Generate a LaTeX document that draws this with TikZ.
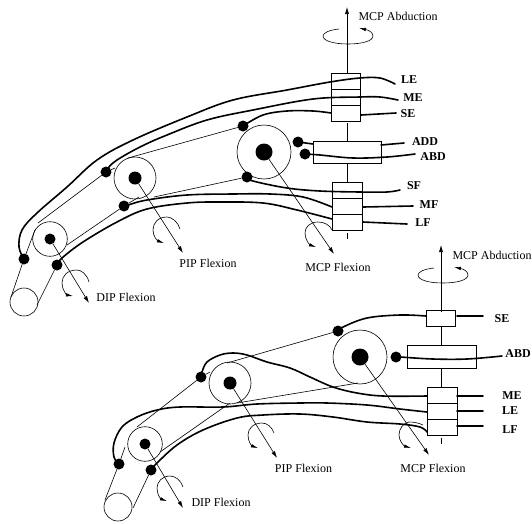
\documentclass[tikz,border=0pt]{standalone}
\usepackage{fontspec}
\setmainfont{Liberation Serif}
\usetikzlibrary{arrows.meta}
\tikzset{
 x=1pt,y=-1pt,
 thinl/.style={line width=0.6pt,black},
 tendon/.style={line width=1.6pt,black,line cap=round,line join=round},
 ring/.style={circle,draw,line width=0.6pt,inner sep=0pt,outer sep=0pt,minimum size=#1},
 blob/.style={circle,fill=black,inner sep=0pt,outer sep=0pt,minimum size=#1},
 slot/.style={rectangle,draw,line width=0.7pt,inner sep=0pt,outer sep=0pt,minimum width=#1},
 lab/.style={font=\fontsize{12}{14}\selectfont,inner sep=0pt},
 blab/.style={font=\fontsize{12}{14}\selectfont\bfseries,inner sep=0pt},
 arrowl/.style={thinl,-{Latex[length=7pt,width=4pt]}},
 spin/.style={thinl,-{Latex[length=7pt,width=3.5pt]}},
}
\begin{document}
\begin{tikzpicture}
\useasboundingbox (0,0) rectangle (532,523);
% ---------- upper finger
\node[ring=28pt] (uT) at (24,302) {};
\node[ring=34.6pt] (uD) at (50,239) {};
\node[ring=42pt] (uP) at (135,178) {};
\node[ring=54pt] (uM) at (264,152) {};
\node[blob=11pt] (uDc) at (50,239) {};
\node[blob=13pt] (uPc) at (135,178) {};
\node[blob=17pt] (uMc) at (264,152) {};
\node[blob=11pt] (ua) at (24,259) {};
\node[blob=11pt] (ub) at (57,265) {};
\node[blob=11pt] (uc) at (106,172) {};
\node[blob=11pt] (ud) at (124,206) {};
\node[blob=11pt] (ue) at (243,126) {};
\node[blob=11pt] (uf) at (247,177) {};
\node[blob=11pt] (uadd) at (298,142) {};
\node[blob=11pt] (uabd) at (305,154) {};
\node[slot=29pt,minimum height=16pt] (uLE) at (345.5,81) {};
\node[slot=29pt,minimum height=16pt] (uME) at (345.5,97) {};
\node[slot=29pt,minimum height=16pt] (uSE) at (345.5,113) {};
\node[slot=68pt,minimum height=22pt] (uAB) at (347,152) {};
\node[slot=30pt,minimum height=16pt] (uSF) at (347,190) {};
\node[slot=30pt,minimum height=16pt] (uMF) at (347,206) {};
\node[slot=30pt,minimum height=16pt] (uLF) at (347,222) {};
\coordinate (uTop) at (347,7);
\draw[arrowl] (347,73) -- (uTop);
\draw[thinl] (347,123) -- (347,141);
\draw[thinl] (347,163) -- (347,182);
\draw[thinl] (347,233) -- (347,239);
\draw[thinl] (11,297) -- (ua) -- (35,230);
\draw[thinl] (37,305) -- (ub);
\draw[thinl] (38,223) -- (uc) -- (115,168);
\draw[thinl] (67,245) -- (ud) -- (139,197);
\draw[thinl] (128,158) -- (ue);
\draw[thinl] (154,197) -- (uf);
\draw[tendon] plot[smooth,tension=0.6] coordinates {(ua) (19,247) (22,230) (37,213) (67,187) (97,160) (133,140) (187,117) (233,100) (287,90) (330,82) (360,78) (380,78) (395,84)};
\draw[tendon] plot[smooth,tension=0.6] coordinates {(uc) (108,168) (117,160) (140,147) (167,135) (207,120) (253,110) (313,99) (360,97) (380,97) (398,100)};
\draw[tendon] plot[smooth,tension=0.6] coordinates {(ue) (263,115) (287,111) (313,111) (331,113)};
\draw[tendon] (361,115) -- (396,113);
\draw[tendon] plot[smooth,tension=0.6] coordinates {(uf) (253,181) (287,188) (320,191) (360,192) (387,192) (400,190)};
\draw[tendon] plot[smooth,tension=0.6] coordinates {(ud) (128,205) (147,200) (187,195) (233,194) (270,194) (303,197) (332,207)};
\draw[tendon] (363,207) -- (413,206);
\draw[tendon] plot[smooth,tension=0.6] coordinates {(ub) (62,258) (83,242) (117,222) (147,209) (187,203) (220,202) (263,203) (297,210) (332,219)};
\draw[tendon] (363,222) -- (407,224);
\draw[tendon] (uadd) -- (313,144);
\draw[tendon] (381,145) -- (404,143);
\draw[tendon] plot[smooth,tension=0.6] coordinates {(uabd) (320,155) (353,158) (387,157) (415,154)};
\coordinate (uDe) at (89,303);
\coordinate (uPe) at (183,253);
\coordinate (uMe) at (334,254);
\draw[arrowl] (uDc) -- (uDe);
\draw[arrowl] (uPc) -- (uPe);
\draw[arrowl] (uMc) -- (uMe);
\draw[spin] (89,282) .. controls (87,274) and (81,270) .. (77,270) .. controls (67,270) and (62,276) .. (62,283) .. controls (62,290) and (67,295) .. (73,296);
\draw[spin] (180,229) .. controls (178,222) and (172,217) .. (167,217) .. controls (158,217) and (153,223) .. (153,230) .. controls (153,237) and (158,241) .. (164,243);
\draw[spin] (332,230) .. controls (330,225) and (324,222) .. (318,222) .. controls (310,222) and (305,227) .. (305,233) .. controls (305,240) and (310,245) .. (316,247);
\draw[spin] (339,29) .. controls (329,30) and (323,33) .. (323,36) .. controls (323,41) and (334,44) .. (348,44) .. controls (362,44) and (373,41) .. (373,36) .. controls (373,32) and (368,30) .. (359,28);
\node[lab] (tu1) at (398,16) {MCP Abduction};
\node[lab] (tu2) at (338,267) {MCP Flexion};
\node[lab] (tu3) at (208,263) {PIP Flexion};
\node[lab] (tu4) at (126,297) {DIP Flexion};
\node[blab] (tu5) at (409,80) {LE};
\node[blab] (tu6) at (413,98) {ME};
\node[blab] (tu7) at (408,114) {SE};
\node[blab] (tu8) at (425,142) {ADD};
\node[blab] (tu9) at (433,157) {ABD};
\node[blab] (tu10) at (414,186) {SF};
\node[blab] (tu11) at (429,205) {MF};
\node[blab] (tu12) at (423,223) {LF};
% ---------- lower finger
\node[ring=28pt] (lT) at (118,507) {};
\node[ring=34.6pt] (lD) at (145,444) {};
\node[ring=42pt] (lP) at (230,383) {};
\node[ring=54pt] (lM) at (360,357) {};
\node[blob=11pt] (lDc) at (145,444) {};
\node[blob=13pt] (lPc) at (230,383) {};
\node[blob=17pt] (lMc) at (360,357) {};
\node[blob=11pt] (la) at (119,464) {};
\node[blob=11pt] (lb) at (151,470) {};
\node[blob=11pt] (lc) at (201,377) {};
\node[blob=11pt] (le) at (338,331) {};
\node[blob=11pt] (labd) at (396,357) {};
\node[slot=29pt,minimum height=16pt] (lSE) at (440.5,318) {};
\node[slot=69pt,minimum height=23pt] (lAB) at (441.5,356.5) {};
\node[slot=30pt,minimum height=16pt] (lME) at (442,395) {};
\node[slot=30pt,minimum height=16pt] (lLE) at (442,411) {};
\node[slot=30pt,minimum height=16pt] (lLF) at (442,427) {};
\coordinate (lTop) at (441,245);
\draw[arrowl] (441,312) -- (lTop);
\draw[thinl] (441,326) -- (441,345);
\draw[thinl] (441,369) -- (441,387);
\draw[thinl] (441,438) -- (441,444);
\draw[thinl] (105,500) -- (la) -- (125,447);
\draw[thinl] (133,508) -- (lb);
\draw[thinl] (137,427) -- (lc) -- (210,372);
\draw[thinl] (160,452) -- (230,403);
\draw[thinl] (227,363) -- (le);
\draw[thinl] (237,403) -- (358,383);
\draw[tendon] plot[smooth,tension=0.6] coordinates {(lc) (202,372) (207,362) (220,355) (233,353) (247,355) (267,362) (290,368) (310,377) (333,387) (357,393) (383,396) (427,396)};
\draw[tendon] (457,396) -- (483,396);
\draw[tendon] plot[smooth,tension=0.6] coordinates {(la) (114,457) (114,443) (122,427) (137,417) (157,410) (180,407) (223,407) (257,404) (300,403) (327,403) (367,405) (400,409) (427,412)};
\draw[tendon] (457,411) -- (483,411);
\draw[tendon] plot[smooth,tension=0.6] coordinates {(lb) (157,463) (177,445) (203,430) (237,418) (263,415) (300,414) (333,417) (367,422) (400,424) (420,427) (427,432)};
\draw[tendon] (457,426) -- (483,426);
\draw[tendon] plot[smooth,tension=0.6] coordinates {(le) (343,327) (367,318) (400,315) (426,316)};
\draw[tendon] (457,316) -- (483,316);
\draw[tendon] plot[smooth,tension=0.6] coordinates {(labd) (400,357) (433,359) (467,359) (502,356)};
\coordinate (lDe) at (183,508);
\coordinate (lPe) at (277,458);
\coordinate (lMe) at (429,455);
\draw[arrowl] (lDc) -- (lDe);
\draw[arrowl] (lPc) -- (lPe);
\draw[arrowl] (lMc) -- (lMe);
\draw[spin] (183,487) .. controls (181,480) and (175,476) .. (170,476) .. controls (162,476) and (157,482) .. (157,488) .. controls (157,495) and (161,499) .. (167,501);
\draw[spin] (274,433) .. controls (272,427) and (267,423) .. (262,423) .. controls (253,423) and (248,429) .. (248,435) .. controls (248,442) and (252,446) .. (258,448);
\draw[spin] (423,425) .. controls (419,423) and (414,422) .. (409,422) .. controls (403,423) and (399,429) .. (399,435) .. controls (399,441) and (404,446) .. (411,448);
\draw[spin] (434,268) .. controls (424,269) and (418,272) .. (418,275) .. controls (418,280) and (429,283) .. (443,283) .. controls (457,283) and (468,280) .. (468,275) .. controls (468,271) and (463,269) .. (454,267);
\node[lab] (tl1) at (492,255) {MCP Abduction};
\node[lab] (tl2) at (433,468) {MCP Flexion};
\node[lab] (tl3) at (303.5,468) {PIP Flexion};
\node[lab] (tl4) at (221,502) {DIP Flexion};
\node[blab] (tl5) at (502,319) {SE};
\node[blab] (tl6) at (518,354) {ABD};
\node[blab] (tl7) at (512,396) {ME};
\node[blab] (tl8) at (510,411) {LE};
\node[blab] (tl9) at (510,430) {LF};
\end{tikzpicture}
\end{document}
